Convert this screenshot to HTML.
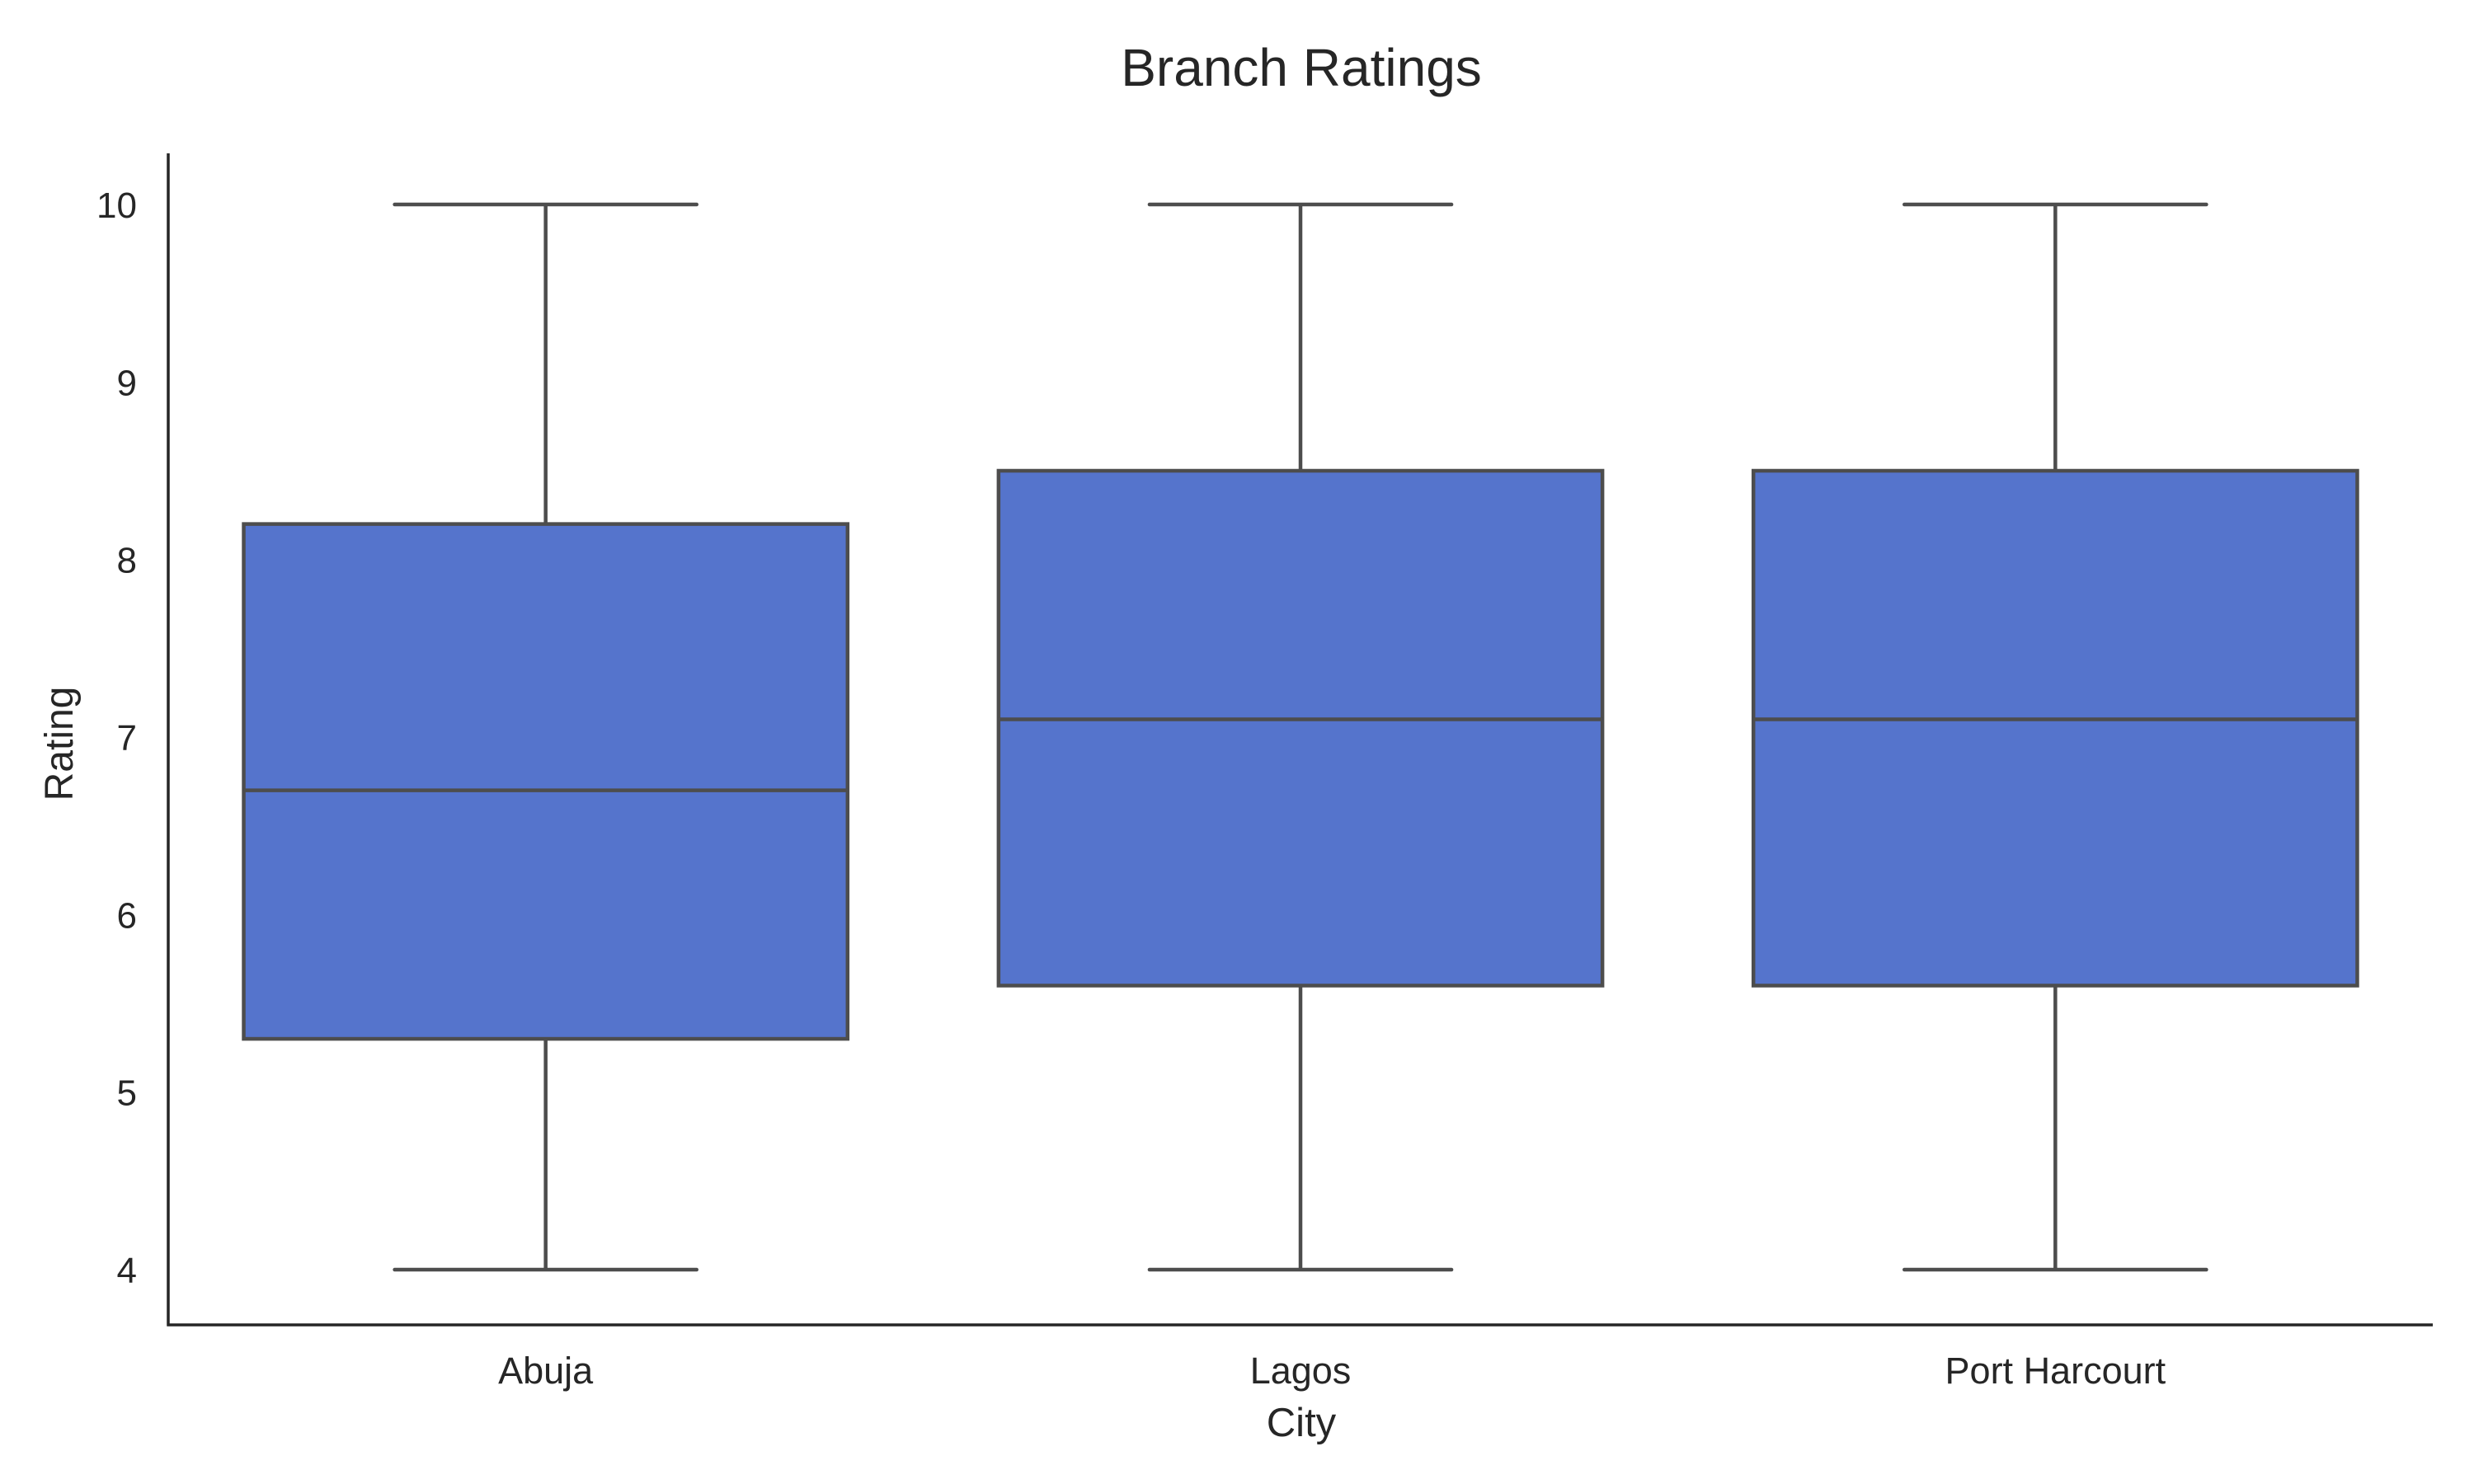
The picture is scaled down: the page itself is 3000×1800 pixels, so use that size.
<!DOCTYPE html>
<html><head><meta charset="utf-8"><style>
html,body{margin:0;padding:0;background:#fff;}
svg{display:block;font-family:"Liberation Sans",Arial,sans-serif;}
</style></head><body>
<svg id="chart" width="3000" height="1800" viewBox="0 0 3000 1800">
<text x="1578" y="104" font-size="64" text-anchor="middle" fill="#262626">Branch Ratings</text>
<g id="boxes"></g>
<g id="axes"></g>
<text x="1578" y="1742" font-size="49" text-anchor="middle" fill="#262626">City</text>
<text transform="translate(88,902) rotate(-90)" font-size="48" text-anchor="middle" fill="#262626">Rating</text>
</svg>
<script>
const categories = ["Abuja", "Lagos", "Port Harcourt"];
const whiskerLow = [4, 4, 4];
const q1 = [5.3, 5.6, 5.6];
const median = [6.7, 7.1, 7.1];
const q3 = [8.2, 8.5, 8.5];
const whiskerHigh = [10, 10, 10];
const yTicks = [4, 5, 6, 7, 8, 9, 10];

const NS = "http://www.w3.org/2000/svg";
const X0 = 204, X1 = 2950, YB = 1607, YT = 186;
const Y10 = 248, Y4 = 1540;
const band = (X1 - X0) / categories.length;
function xC(i){ return X0 + band * (i + 0.5); }
function y(v){ return Y4 - (v - 4) / 6 * (Y4 - Y10); }
function mk(tag, attrs, parent){ const e = document.createElementNS(NS, tag); for (const k in attrs) e.setAttribute(k, attrs[k]); parent.appendChild(e); return e; }

const boxes = document.getElementById('boxes');
const axes = document.getElementById('axes');
const stroke = "#4d4d4d", sw = 4.5;
categories.forEach((c, i) => {
  const cx = xC(i), bw = band * 0.8, cap = bw / 4;
  const g = mk('g', {}, boxes);
  
  
  const wl = mk('line', {x1: cx, x2: cx, y1: y(whiskerLow[i]), y2: y(q1[i]), stroke, 'stroke-width': sw}, g);
  
  
  const wh = mk('line', {x1: cx, x2: cx, y1: y(whiskerHigh[i]), y2: y(q3[i]), stroke, 'stroke-width': sw}, g);
  
  
  const cl = mk('line', {x1: cx - cap, x2: cx + cap, y1: y(whiskerLow[i]), y2: y(whiskerLow[i]), stroke, 'stroke-width': sw, 'stroke-linecap': 'round'}, g);
  
  
  const ch = mk('line', {x1: cx - cap, x2: cx + cap, y1: y(whiskerHigh[i]), y2: y(whiskerHigh[i]), stroke, 'stroke-width': sw, 'stroke-linecap': 'round'}, g);
  
  
  const r = mk('rect', {x: cx - bw / 2, y: y(q3[i]), width: bw, height: y(q1[i]) - y(q3[i]), fill: '#5574cc', stroke, 'stroke-width': sw}, g);
  
  
  const m = mk('line', {x1: cx - bw / 2, x2: cx + bw / 2, y1: y(median[i]), y2: y(median[i]), stroke, 'stroke-width': sw}, g);
  
  
  const t = mk('text', {x: cx, y: 1678, 'font-size': 45, 'text-anchor': 'middle', fill: '#262626'}, axes);
  t.textContent = c;
  
  
});
yTicks.forEach(v => {
  const t = mk('text', {x: 166, y: y(v) + 16, 'font-size': 44, 'text-anchor': 'end', fill: '#262626'}, axes);
  t.textContent = v;
  
  
});
const ya = mk('line', {x1: X0, x2: X0, y1: YT, y2: YB + 1.5, stroke: '#262626', 'stroke-width': 3.5}, axes);


const xa = mk('line', {x1: X0 - 1.5, x2: X1, y1: YB, y2: YB, stroke: '#262626', 'stroke-width': 3.5}, axes);


</script>
</body></html>
